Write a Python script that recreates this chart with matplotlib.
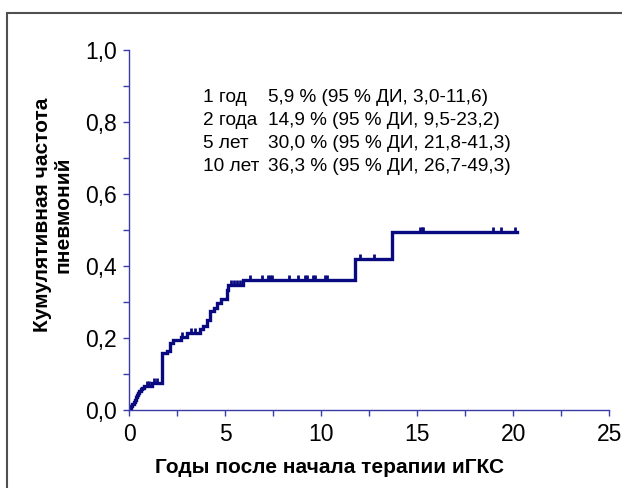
import matplotlib.pyplot as plt
import numpy as np
from matplotlib.patches import Rectangle
from matplotlib.ticker import MultipleLocator, FuncFormatter

plt.rcParams['font.family'] = ['Liberation Sans', 'DejaVu Sans']

# step function of cumulative incidence (time in years, value)
times = [0, 0.05, 0.1, 0.16, 0.22, 0.28, 0.34, 0.4, 0.46, 0.52, 0.6, 0.68, 0.75,
         1.17, 1.69, 1.95, 2.13, 2.3, 2.68, 3.0, 3.68, 3.85, 4.03, 4.2, 4.4, 4.55,
         4.8, 5.07, 5.16, 5.94, 11.75, 13.67, 20.18]
values = [0, 0.006, 0.012, 0.018, 0.024, 0.03, 0.036, 0.042, 0.048, 0.054, 0.06,
          0.063, 0.068, 0.076, 0.158, 0.165, 0.186, 0.195, 0.204, 0.214, 0.225,
          0.235, 0.25, 0.275, 0.283, 0.297, 0.31, 0.334, 0.348, 0.362, 0.42,
          0.494, 0.494]

# censored observations
censored = [0.9, 1.0, 1.3, 1.45, 2.75, 3.2, 3.4, 5.3, 5.45, 5.6, 5.75,
            6.29, 6.9, 7.2, 7.33, 7.45, 8.33, 8.8, 9.15, 9.24, 9.58, 9.67,
            10.19, 10.28, 12.02, 12.76, 15.14, 15.23, 15.31, 18.96, 19.34, 20.09]

row_labels = ['1 год', '2 года', '5 лет', '10 лет']
row_values = ['5,9 % (95 % ДИ, 3,0-11,6)', '14,9 % (95 % ДИ, 9,5-23,2)',
              '30,0 % (95 % ДИ, 21,8-41,3)', '36,3 % (95 % ДИ, 26,7-49,3)']

line_col = '#0a0a80'
axis_col = '#3a3aa8'

fig = plt.figure(figsize=(6.22, 4.88), dpi=100)
ax = fig.add_axes([0.2079, 0.1592, 0.7717, 0.7377])

ax.step(times, values, where='post', color=line_col, lw=2.4, solid_joinstyle='miter')

# censor marks sit on the curve level at their time
t_arr = np.array(times)
v_arr = np.array(values)
idx = np.searchsorted(t_arr, censored, side='right') - 1
cy = v_arr[idx]
ax.vlines(censored, cy, cy + 0.014, color=line_col, lw=2.0)

# text block
for i, (lab, val) in enumerate(zip(row_labels, row_values)):
    y = 0.87 - i * 0.064
    ax.text(3.84, y, lab, fontsize=13.7, va='center', ha='left')
    ax.text(7.22, y, val, fontsize=13.7, va='center', ha='left')

ax.set_xlim(0, 25)
ax.set_ylim(0, 1.0)
ax.xaxis.set_major_locator(MultipleLocator(5))
ax.xaxis.set_minor_locator(MultipleLocator(2.5))
ax.yaxis.set_major_locator(MultipleLocator(0.2))
ax.yaxis.set_minor_locator(MultipleLocator(0.1))
ax.yaxis.set_major_formatter(FuncFormatter(lambda v, p: f'{v:.1f}'.replace('.', ',')))

for s in ['top', 'right']:
    ax.spines[s].set_visible(False)
for s in ['left', 'bottom']:
    ax.spines[s].set_color(axis_col)
    ax.spines[s].set_linewidth(1.0)

ax.tick_params(which='both', direction='out', length=4, width=1.0, color=axis_col)
ax.tick_params(which='major', labelsize=16.5, pad=5)

fig.text(0.53, 0.043, 'Годы после начала терапии иГКС', fontsize=15,
         fontweight='bold', ha='center', va='center')
fig.text(0.085, 0.56, 'Кумулятивная частота\nпневмоний', fontsize=15,
         fontweight='bold', ha='center', va='center', rotation=90,
         linespacing=1.1)

# outer frame (cut off on right and bottom)
fig.patches.append(Rectangle((0.0113, -0.1), 1.1, 1.0734, transform=fig.transFigure,
                             fill=False, edgecolor='#505050', lw=1.5, clip_on=False))

fig.savefig('out.png', dpi=100)
